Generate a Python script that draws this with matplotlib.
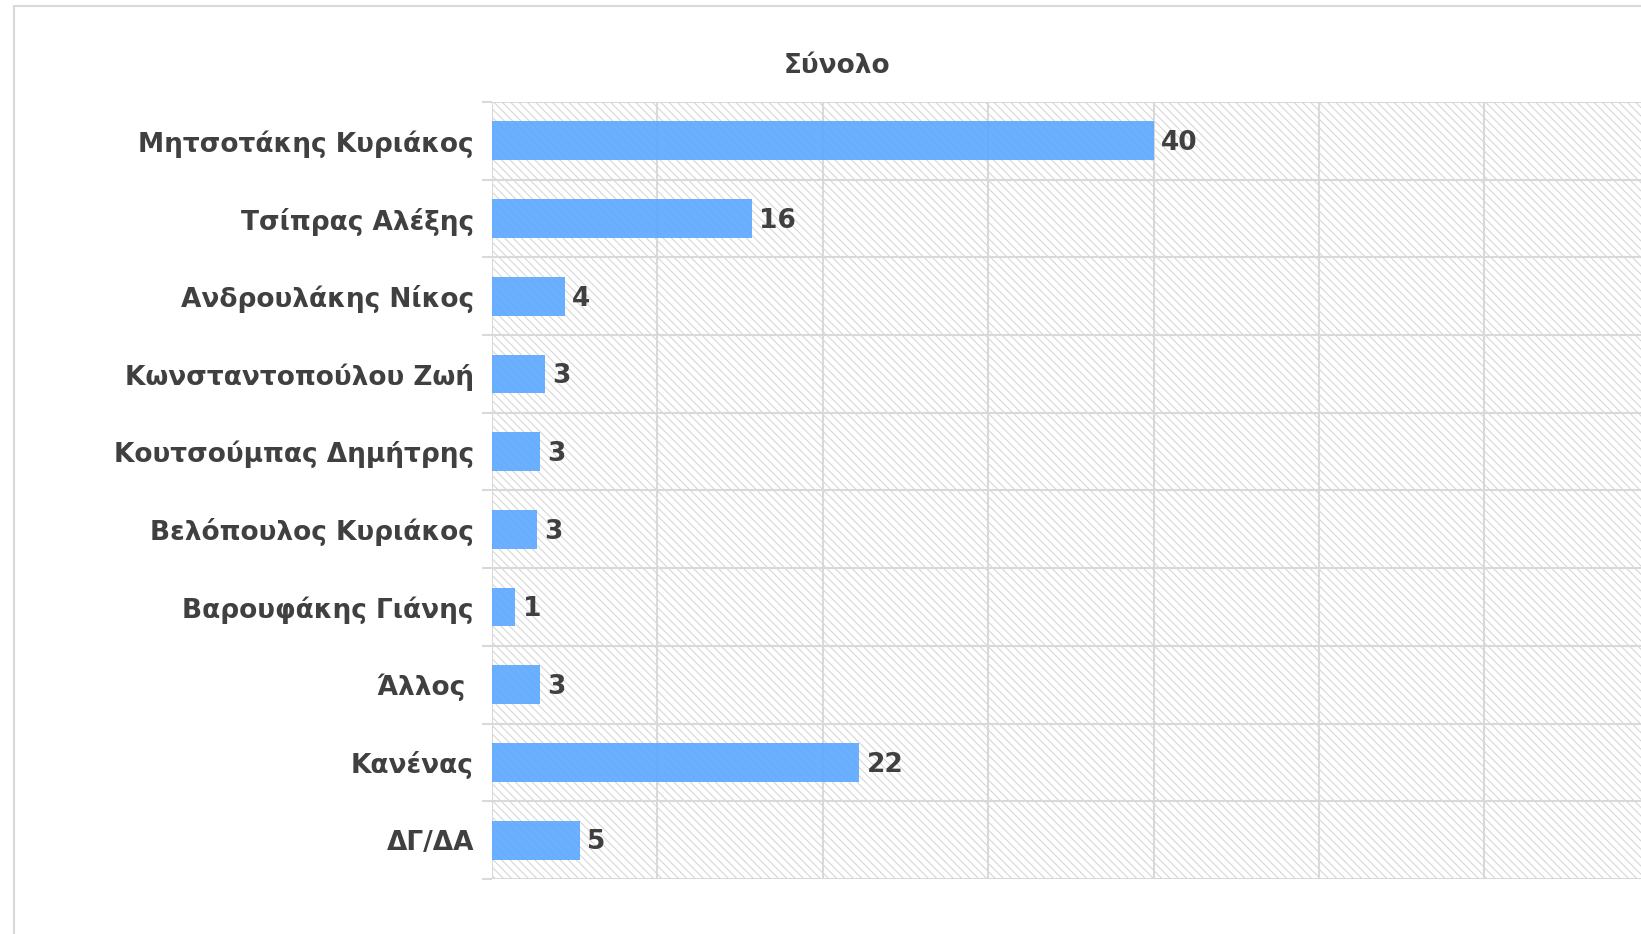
import matplotlib.pyplot as plt
from matplotlib.patches import Rectangle
from matplotlib.ticker import MultipleLocator, FixedLocator

plt.rcParams['font.family'] = ['DejaVu Sans']
plt.rcParams['hatch.linewidth'] = 0.7

# Data (top to bottom)
names = [
    "Μητσοτάκης Κυριάκος",
    "Τσίπρας Αλέξης",
    "Ανδρουλάκης Νίκος",
    "Κωνσταντοπούλου Ζωή",
    "Κουτσούμπας Δημήτρης",
    "Βελόπουλος Κυριάκος",
    "Βαρουφάκης Γιάνης",
    "Άλλος ",
    "Κανένας",
    "ΔΓ/ΔΑ",
]
values = [40.0, 15.7, 4.4, 3.2, 2.9, 2.7, 1.4, 2.9, 22.2, 5.3]
labels = ["40", "16", "4", "3", "3", "3", "1", "3", "22", "5"]

text_color = "#404040"
grid_color = "#d9d9d9"
hatch_color = "#d2d2d2"
bar_color = "#5aa8ff"

fig = plt.figure(figsize=(16.41, 9.34), dpi=100)

# outer chart frame
fig.patches.append(Rectangle((14 / 1641, -0.1), 1.2, 1 - 6 / 934 + 0.1,
                             transform=fig.transFigure, fill=False,
                             edgecolor=grid_color, linewidth=1.5))

ax = fig.add_axes([0.2998, 0.0589, 0.8063, 0.8319])

y = list(range(len(names)))
ax.set_xlim(0, 80)
ax.set_ylim(len(names) - 0.5, -0.5)

# hatched plot background
ax.add_patch(Rectangle((0, -0.5), 80, len(names), facecolor="white",
                       hatch="\\\\\\\\", edgecolor=hatch_color, linewidth=0,
                       zorder=0))

ax.barh(y, values, height=0.5, color=bar_color, alpha=0.9, zorder=2)

for yi, v, lab in zip(y, values, labels):
    ax.text(v + 0.45, yi + 0.03, lab, va="center", ha="left", fontsize=19,
            fontweight="bold", color=text_color, zorder=3)

ax.set_yticks(y)
ax.set_yticklabels(names, fontsize=19, fontweight="bold", color=text_color)
ax.yaxis.set_minor_locator(FixedLocator([i - 0.5 for i in range(len(names) + 1)]))
ax.tick_params(axis="y", which="major", length=0, pad=13)
ax.tick_params(axis="y", which="minor", length=7, width=1.5, color=grid_color)
ax.xaxis.set_major_locator(MultipleLocator(10))
ax.tick_params(axis="x", which="both", length=0, labelbottom=False)

ax.grid(axis="x", which="major", color=grid_color, linewidth=1.5, zorder=1)
ax.grid(axis="y", which="minor", color=grid_color, linewidth=1.5, zorder=1)
ax.set_axisbelow(True)
for s in ax.spines.values():
    s.set_visible(False)

fig.text(837 / 1641, 1 - 66 / 934, "Σύνολο", ha="center", va="center",
         fontsize=19, fontweight="bold", color=text_color)

fig.savefig("out.png", dpi=100)
